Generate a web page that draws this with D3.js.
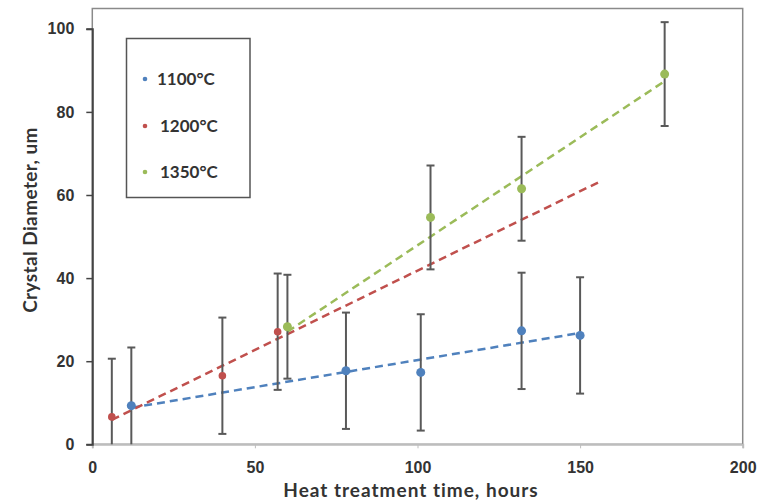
<!DOCTYPE html>
<html>
<head>
<meta charset="utf-8">
<script src="https://cdn.jsdelivr.net/npm/d3@7"></script>
<style>
  body { margin: 0; background: #fff; }
  svg { display: block; font-family: Lato, "Open Sans", sans-serif; }
</style>
</head>
<body>
<svg id="chart" width="773" height="502"></svg>
<script>
// data
const seriesNames = ['1100°C', '1200°C', '1350°C'];
const seriesColors = ['#4F81BD', '#C0504D', '#9BBB59'];

const hours1100 = [12, 78, 101, 132, 150];
const diam1100 = [9.3, 17.7, 17.3, 27.3, 26.2];
const err1100 = [14, 14, 14, 14, 14];

const hours1200 = [6, 40, 57];
const diam1200 = [6.6, 16.5, 27.1];
const err1200 = [14, 14, 14];

const hours1350 = [60, 104, 132, 176];
const diam1350 = [28.3, 54.6, 61.5, 89.1];
const err1350 = [12.5, 12.5, 12.5, 12.5];

// linear trend lines: [x start, y start], [x end, y end]
const trend1100 = [[12, 8.8], [150, 26.8]];
const trend1200 = [[6, 5.9], [155.5, 63]];
const trend1350 = [[60, 27.1], [176, 87.4]];

const xTicks = [0, 50, 100, 150, 200];
const yTicks = [0, 20, 40, 60, 80, 100];

const svg = d3.select('#chart');
const x = d3.scaleLinear().domain([0, 200]).range([92.3, 742.7]);
const y = d3.scaleLinear().domain([0, 100]).range([444.3, 28.8]);

// plot frame
svg.append('rect')
  .attr('x', x(0)).attr('y', 8.5)
  .attr('width', x(200) - x(0)).attr('height', y(0) - 8.5)
  .attr('fill', 'none').attr('stroke', '#8a8a8a').attr('stroke-width', 1.5);

// axes
const xAxis = svg.append('g').attr('transform', `translate(0,${y(0)})`)
  .call(d3.axisBottom(x).tickValues(xTicks).tickSize(4).tickPadding(13));
xAxis.select('.domain').attr('stroke', '#bdbdbd').attr('stroke-width', 2);
xAxis.selectAll('.tick line').attr('stroke', '#bdbdbd');

const yAxis = svg.append('g').attr('transform', `translate(${x(0)},0)`)
  .call(d3.axisLeft(y).tickValues(yTicks).tickSize(6).tickPadding(12));
yAxis.select('.domain').attr('stroke', '#444').attr('stroke-width', 2);
yAxis.selectAll('.tick line').attr('stroke', '#444').attr('stroke-width', 1.5);

svg.selectAll('.tick text')
  .style('font-size', '16px').style('font-weight', 'bold').attr('fill', '#333');

// trend lines
const line = d3.line().x(d => x(d[0])).y(d => y(d[1]));
[trend1100, trend1200, trend1350].forEach((t, i) => {
  svg.append('path')
    .attr('d', line(t))
    .attr('fill', 'none')
    .attr('stroke', seriesColors[i])
    .attr('stroke-width', 2.5)
    .attr('stroke-dasharray', '8,5');
});

// error bars + points
const series = [
  { xs: hours1100, ys: diam1100, es: err1100, r: 4.5 },
  { xs: hours1200, ys: diam1200, es: err1200, r: 3.8 },
  { xs: hours1350, ys: diam1350, es: err1350, r: 4.5 }
];

series.forEach((s, i) => {
  const pts = s.xs.map((h, j) => ({ h: h, v: s.ys[j], e: s.es[j] }));
  const g = svg.append('g');
  const eb = g.selectAll('g.err').data(pts).enter().append('g').attr('class', 'err')
    .attr('stroke', '#595959').attr('stroke-width', 2);
  eb.append('line')
    .attr('x1', d => x(d.h)).attr('x2', d => x(d.h))
    .attr('y1', d => y(d.v + d.e))
    .attr('y2', d => y(Math.max(0, d.v - d.e)));
  eb.append('line')
    .attr('x1', d => x(d.h) - 4).attr('x2', d => x(d.h) + 4)
    .attr('y1', d => y(d.v + d.e)).attr('y2', d => y(d.v + d.e));
  eb.filter(d => d.v - d.e > 0).append('line')
    .attr('x1', d => x(d.h) - 4).attr('x2', d => x(d.h) + 4)
    .attr('y1', d => y(d.v - d.e)).attr('y2', d => y(d.v - d.e));
  g.selectAll('circle').data(pts).enter().append('circle')
    .attr('cx', d => x(d.h)).attr('cy', d => y(d.v))
    .attr('r', s.r).attr('fill', seriesColors[i]);
});

// legend
const legend = svg.append('g');
legend.append('rect')
  .attr('x', 126.5).attr('y', 38.5).attr('width', 123.5).attr('height', 159)
  .attr('fill', '#fff').attr('stroke', '#555').attr('stroke-width', 1.5);
const legendY = [79, 126, 172];
seriesNames.forEach((name, i) => {
  legend.append('circle')
    .attr('cx', 145).attr('cy', legendY[i]).attr('r', 2.3)
    .attr('fill', seriesColors[i]);
  legend.append('text')
    .attr('x', i === 0 ? 157 : 160).attr('y', legendY[i]).attr('dy', '0.35em')
    .style('font-size', '17px').style('font-weight', 'bold').attr('fill', '#333')
    .text(name);
});

// axis titles
svg.append('text')
  .attr('x', 411).attr('y', 497)
  .attr('text-anchor', 'middle')
  .style('font-size', '19px').style('font-weight', 'bold')
  .style('letter-spacing', '1px').attr('fill', '#333')
  .text('Heat treatment time, hours');

svg.append('text')
  .attr('transform', 'translate(37,220) rotate(-90)')
  .attr('text-anchor', 'middle')
  .style('font-size', '19px').style('font-weight', 'bold')
  .style('letter-spacing', '0.4px').attr('fill', '#333')
  .text('Crystal Diameter, um');
</script>
</body>
</html>
